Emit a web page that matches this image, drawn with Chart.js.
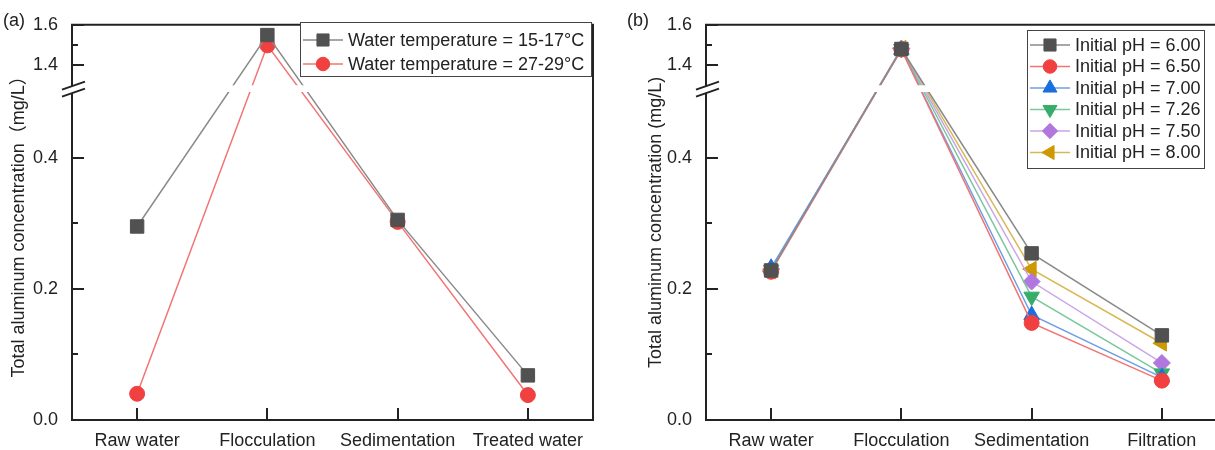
<!DOCTYPE html>
<html>
<head>
<meta charset="utf-8">
<script src="https://cdn.jsdelivr.net/npm/chart.js@4.4.0/dist/chart.umd.min.js"></script>
<style>
  html, body { margin: 0; padding: 0; background: #fff; }
  #wrap { position: relative; width: 1215px; height: 450px; overflow: hidden; }
  canvas { position: absolute; top: 0; }
  #chartA { left: 0; }
  #chartB { left: 605px; }
  .tag { position: absolute; top: 9px; font: 18px 'Liberation Sans', Arial, sans-serif; color: #222; line-height: 22px; }
</style>
</head>
<body>
<div id="wrap">
  <canvas id="chartA" width="605" height="450"></canvas>
  <canvas id="chartB" width="640" height="450"></canvas>
  <div class="tag" style="left:3px">(a)</div>
  <div class="tag" style="left:627px">(b)</div>
</div>
<script>
/* ------------------- DATA ------------------- */
const stagesA = ["Raw water", "Flocculation", "Sedimentation", "Treated water"];
const temp15_17 = [0.295, 1.549, 0.305, 0.068];
const temp27_29 = [0.040, 1.498, 0.302, 0.038];

const stagesB = ["Raw water", "Flocculation", "Sedimentation", "Filtration"];
const ph600 = [0.228, 1.480, 0.254, 0.129];
const ph650 = [0.226, 1.478, 0.148, 0.060];
const ph700 = [0.232, 1.476, 0.160, 0.065];
const ph726 = [0.229, 1.480, 0.188, 0.071];
const ph750 = [0.230, 1.482, 0.211, 0.087];
const ph800 = [0.227, 1.484, 0.230, 0.117];

const yTicks = [0, 0.1, 0.2, 0.3, 0.4, 1.4, 1.5, 1.6];
const yTickLabels = ["0.0", "", "0.2", "", "0.4", "1.4", "", "1.6"];

/* ------------------- BROKEN AXIS ------------------- */
const BREAK_LOW = 0.5, BREAK_HIGH = 1.3, Y_MAX = 1.6;
const LOW_FRAC = 0.83, HIGH_FRAC = 0.153;
const INK = "#222";
const FONT = "'Liberation Sans', Arial, 'Noto Sans CJK SC', sans-serif";

class BrokenScale extends Chart.LinearScale {
  buildTicks() {
    return yTicks.map(v => ({ value: v }));
  }
  getPixelForValue(v) {
    const h = this.bottom - this.top;
    const lowTop = this.bottom - LOW_FRAC * h;
    const highBottom = this.top + HIGH_FRAC * h;
    if (v <= BREAK_LOW) return this.bottom - v / BREAK_LOW * LOW_FRAC * h;
    if (v >= BREAK_HIGH) return this.top + (Y_MAX - v) / (Y_MAX - BREAK_HIGH) * HIGH_FRAC * h;
    return lowTop + (v - BREAK_LOW) / (BREAK_HIGH - BREAK_LOW) * (highBottom - lowTop);
  }
  getValueForPixel(p) {
    const h = this.bottom - this.top;
    const lowTop = this.bottom - LOW_FRAC * h;
    const highBottom = this.top + HIGH_FRAC * h;
    if (p >= lowTop) return (this.bottom - p) / (LOW_FRAC * h) * BREAK_LOW;
    if (p <= highBottom) return Y_MAX - (p - this.top) / (HIGH_FRAC * h) * (Y_MAX - BREAK_HIGH);
    return BREAK_LOW + (lowTop - p) / (lowTop - highBottom) * (BREAK_HIGH - BREAK_LOW);
  }
}
BrokenScale.id = "broken";
BrokenScale.defaults = {};
Chart.register(BrokenScale);

Chart.defaults.font.family = FONT;
Chart.defaults.font.size = 18;
Chart.defaults.color = INK;

/* ------------------- FRAME + LEGEND PLUGIN ------------------- */
const framePlugin = {
  id: "frame",
  afterDatasetsDraw(chart, args, opts) {
    const { ctx, chartArea: a, scales: { x, y } } = chart;
    const lowTop = y.getPixelForValue(BREAK_LOW);
    const highBottom = y.getPixelForValue(BREAK_HIGH);
    ctx.save();

    // gap of the break
    ctx.fillStyle = "#fff";
    ctx.fillRect(a.left + 1, highBottom, a.right - a.left - 2, lowTop - highBottom);

    // frame
    ctx.strokeStyle = INK;
    ctx.lineWidth = 2;
    ctx.beginPath();
    ctx.rect(a.left, a.top, a.right - a.left, a.bottom - a.top);
    ctx.stroke();

    // inward ticks
    ctx.beginPath();
    y.ticks.forEach((t, i) => {
      const py = Math.round(y.getPixelForValue(t.value));
      ctx.moveTo(a.left, py);
      ctx.lineTo(a.left + (yTickLabels[i] ? 12 : 6), py);
    });
    x.ticks.forEach((t, i) => {
      const px = Math.round(x.getPixelForTick(i));
      ctx.moveTo(px, a.bottom);
      ctx.lineTo(px, a.bottom - 12);
    });
    ctx.stroke();

    // break marks on left axis
    const cy = (lowTop + highBottom) / 2;
    const x0 = a.left - 10, x1 = a.left + 13;
    ctx.fillStyle = "#fff";
    ctx.beginPath();
    ctx.moveTo(x0, cy + 1); ctx.lineTo(x1, cy - 7);
    ctx.lineTo(x1, cy); ctx.lineTo(x0, cy + 8);
    ctx.closePath();
    ctx.fill();
    ctx.beginPath();
    ctx.moveTo(x0, cy + 1); ctx.lineTo(x1, cy - 7);
    ctx.moveTo(x0, cy + 8); ctx.lineTo(x1, cy);
    ctx.stroke();

    // legend
    const L = opts.legend;
    ctx.fillStyle = "#fff";
    ctx.fillRect(L.x, L.y, L.w, L.h);
    ctx.strokeStyle = "#444";
    ctx.lineWidth = 1;
    ctx.strokeRect(L.x + 0.5, L.y + 0.5, L.w, L.h);
    ctx.font = "18px " + FONT;
    ctx.textBaseline = "middle";
    chart.data.datasets.forEach((ds, i) => {
      const ry = L.y + L.first + i * L.rowH;
      ctx.strokeStyle = ds.borderColor;
      ctx.lineWidth = 1.5;
      ctx.beginPath();
      ctx.moveTo(L.x + 3, ry);
      ctx.lineTo(L.x + 43, ry);
      ctx.stroke();
      ctx.fillStyle = ds.pointBackgroundColor;
      ctx.strokeStyle = ds.pointBackgroundColor;
      ctx.lineWidth = 1;
      Chart.helpers.drawPoint(ctx, {
        pointStyle: ds.pointStyle, rotation: ds.pointRotation || 0,
        radius: ds.pointRadius * 0.9, borderWidth: 1
      }, L.x + 23, ry);
      ctx.fillStyle = INK;
      ctx.fillText(ds.label, L.x + 48, ry + 1);
    });
    ctx.restore();
  }
};

function series(label, data, marker, line, style, radius, rotation) {
  return {
    label, data,
    borderColor: line, borderWidth: 1.5,
    pointBackgroundColor: marker, pointBorderColor: marker, pointBorderWidth: 1,
    pointStyle: style, pointRadius: radius, pointRotation: rotation || 0,
    tension: 0, fill: false
  };
}

function makeOptions(yWidth, padRight, titleText, titlePad, legend) {
  return {
    responsive: false,
    animation: false,
    devicePixelRatio: 1,
    layout: { padding: { left: 0, right: padRight, top: 21, bottom: 0 } },
    plugins: { legend: { display: false }, tooltip: { enabled: false }, frame: { legend } },
    scales: {
      x: {
        type: "category", offset: true,
        grid: { display: false, drawTicks: false }, border: { display: false },
        ticks: { padding: 10, maxRotation: 0, autoSkip: false },
        afterFit: s => { s.height = 30; }
      },
      y: {
        type: "broken", min: 0, max: Y_MAX,
        grid: { display: false, drawTicks: false }, border: { display: false },
        ticks: { padding: 14, autoSkip: false, callback: (v, i) => yTickLabels[i] },
        title: { display: true, text: titleText, padding: { top: titlePad, bottom: 0 }, font: { size: 18 } },
        afterFit: s => { s.width = yWidth; }
      }
    }
  };
}

new Chart(document.getElementById("chartA"), {
  type: "line",
  data: {
    labels: stagesA,
    datasets: [
      series("Water temperature = 15-17\u00b0C", temp15_17, "#515151", "#8a8a8a", "rect", 9.5),
      series("Water temperature = 27-29\u00b0C", temp27_29, "#f14040", "#f27474", "circle", 7.5)
    ]
  },
  options: makeOptions(72, 12, "Total aluminum concentration\uff08mg/L\uff09", 8,
    { x: 300, y: 22, w: 291, h: 54, first: 18, rowH: 24 }),
  plugins: [framePlugin]
});

new Chart(document.getElementById("chartB"), {
  type: "line",
  data: {
    labels: stagesB,
    datasets: [
      series("Initial pH = 6.00", ph600, "#515151", "#8a8a8a", "rect", 9.5),
      series("Initial pH = 6.50", ph650, "#f14040", "#f27474", "circle", 7.5),
      series("Initial pH = 7.00", ph700, "#1a6fdf", "#6d9fe6", "triangle", 9),
      series("Initial pH = 7.26", ph726, "#37ad6b", "#7cc89c", "triangle", 9, 180),
      series("Initial pH = 7.50", ph750, "#b177de", "#caa5e8", "rectRot", 8.5),
      series("Initial pH = 8.00", ph800, "#cc9900", "#d9b955", "triangle", 9, -90)
    ]
  },
  options: makeOptions(101, 18, "Total aluminum concentration (mg/L)", 40,
    { x: 422, y: 30, w: 177, h: 138, first: 15, rowH: 21.5 }),
  plugins: [framePlugin]
});
</script>
</body>
</html>
